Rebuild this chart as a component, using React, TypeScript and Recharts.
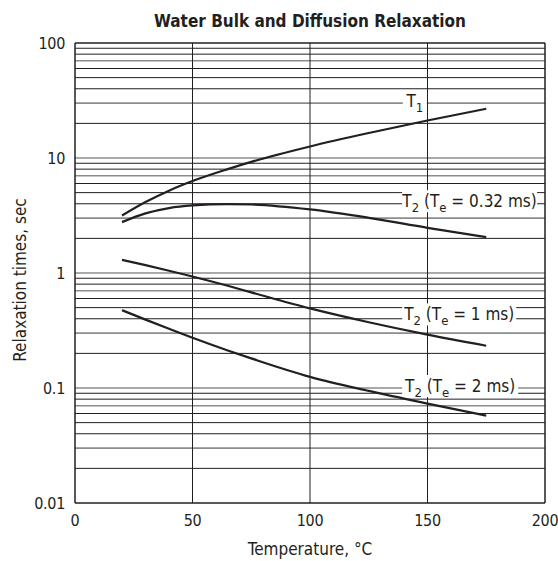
import { LineChart, Line, XAxis, YAxis, ReferenceLine, ReferenceDot } from 'recharts'

// temperatures (°C) at which the curves were read
const temps = [20, 30, 40, 50, 65, 75, 100, 125, 150, 175]
// relaxation times, sec
const t1 = [3.16, 4.14, 5.2, 6.3, 8.0, 9.25, 12.6, 16.5, 21.2, 26.8]
const t2Te032 = [2.77, 3.3, 3.67, 3.87, 3.97, 3.94, 3.57, 3.02, 2.47, 2.05]
const t2Te1 = [1.3, 1.17, 1.047, 0.933, 0.774, 0.679, 0.492, 0.373, 0.291, 0.233]
const t2Te2 = [0.475, 0.393, 0.327, 0.273, 0.212, 0.181, 0.125, 0.0943, 0.0732, 0.0575]

const xTicks = [0, 50, 100, 150, 200]
const yTicks = [0.01, 0.1, 1, 10, 100]
const verticalGrid = [50, 100, 150]
const horizontalGrid = [
  0.02, 0.03, 0.04, 0.05, 0.06, 0.07, 0.08, 0.09, 0.1,
  0.2, 0.3, 0.4, 0.5, 0.6, 0.7, 0.8, 0.9, 1,
  2, 3, 4, 5, 6, 7, 8, 9, 10,
  20, 30, 40, 50, 60, 70, 80, 90,
]

const chartData = temps.map((t, i) => ({
  temp: t,
  t1: t1[i],
  t2a: t2Te032[i],
  t2b: t2Te1[i],
  t2c: t2Te2[i],
}))

const FONT = "'Liberation Sans Narrow', 'DejaVu Sans Condensed', 'Roboto Condensed', sans-serif"
const INK = '#231f20'

// label placement (data units) and white box width
const curveLabels = [
  { id: 't1', x: 144.6, y: 31.2, w: 24, sub: '1', te: null as string | null },
  { id: 'a', x: 167.9, y: 4.21, w: 135, sub: '2', te: '0.32 ms' },
  { id: 'b', x: 163.5, y: 0.436, w: 114, sub: '2', te: '1 ms' },
  { id: 'c', x: 163.9, y: 0.104, w: 116, sub: '2', te: '2 ms' },
]

const isGrayLine = (v: number) => {
  const m = Math.round(v / Math.pow(10, Math.floor(Math.log10(v) + 1e-9)))
  return m === 1 || m === 3 || m === 7
}

function CurveLabel({ cx, cy, w, sub, te }: { cx: number; cy: number; w: number; sub: string; te: string | null }) {
  return (
    <g>
      <rect x={cx - w / 2} y={cy - 11} width={w} height={22} fill="#fff" />
      <text x={cx} y={cy + 6} textAnchor="middle" fontFamily={FONT} fontSize={17} fill={INK}>
        <tspan>T</tspan>
        <tspan dy={5} fontSize={13}>{sub}</tspan>
        {te && (
          <>
            <tspan dy={-5}> (T</tspan>
            <tspan dy={5} fontSize={13}>e</tspan>
            <tspan dy={-5}>{` = ${te})`}</tspan>
          </>
        )}
      </text>
    </g>
  )
}

const tickStyle = { fontSize: 16, fill: INK, fontFamily: FONT, letterSpacing: -0.3 }

export default function App() {
  return (
    <div style={{ position: 'absolute', left: 0, top: 0, width: 558, height: 561, background: '#fff', fontFamily: FONT, color: INK }}>
      <div style={{ position: 'absolute', left: 0, width: 620, top: 11, textAlign: 'center', fontWeight: 'bold', fontSize: 17 }}>
        Water Bulk and Diffusion Relaxation
      </div>
      <div style={{ position: 'absolute', left: 0, width: 620, top: 539, textAlign: 'center', fontSize: 17 }}>
        Temperature, °C
      </div>
      <div
        style={{
          position: 'absolute', left: 20, top: 280, fontSize: 17, whiteSpace: 'nowrap',
          transform: 'translate(-50%, -50%) rotate(-90deg)',
        }}
      >
        Relaxation times, sec
      </div>
      <LineChart width={558} height={561} data={chartData} margin={{ top: 43, right: 13, bottom: 28, left: 10 }}>
        {horizontalGrid.map((v) => (
          <ReferenceLine
            key={'h' + v}
            y={v}
            stroke={isGrayLine(v) ? '#8c8c8c' : INK}
            strokeWidth={isGrayLine(v) ? 1.6 : 1}
          />
        ))}
        {verticalGrid.map((v) => (
          <ReferenceLine key={'v' + v} x={v} stroke={INK} strokeWidth={1} />
        ))}
        <ReferenceLine y={100} stroke={INK} strokeWidth={1.5} />
        <ReferenceLine x={200} stroke={INK} strokeWidth={1.5} />
        {curveLabels.map((l) => (
          <ReferenceDot
            key={l.id}
            x={l.x}
            y={l.y}
            r={0}
            shape={(p: any) => <CurveLabel cx={p.cx} cy={p.cy} w={l.w} sub={l.sub} te={l.te} />}
          />
        ))}
        <XAxis
          dataKey="temp"
          type="number"
          domain={[0, 200]}
          ticks={xTicks}
          height={30}
          tickLine={false}
          tickMargin={6}
          axisLine={{ stroke: INK, strokeWidth: 1.5 }}
          tick={tickStyle}
        />
        <YAxis
          type="number"
          scale="log"
          domain={[0.01, 100]}
          ticks={yTicks}
          allowDataOverflow
          width={65}
          tickLine={false}
          tickMargin={4}
          axisLine={{ stroke: INK, strokeWidth: 1.5 }}
          tick={tickStyle}
        />
        <Line type="monotone" dataKey="t1" stroke={INK} strokeWidth={2.2} dot={false} isAnimationActive={false} />
        <Line type="monotone" dataKey="t2a" stroke={INK} strokeWidth={2.2} dot={false} isAnimationActive={false} />
        <Line type="monotone" dataKey="t2b" stroke={INK} strokeWidth={2.2} dot={false} isAnimationActive={false} />
        <Line type="monotone" dataKey="t2c" stroke={INK} strokeWidth={2.2} dot={false} isAnimationActive={false} />
      </LineChart>
    </div>
  )
}
